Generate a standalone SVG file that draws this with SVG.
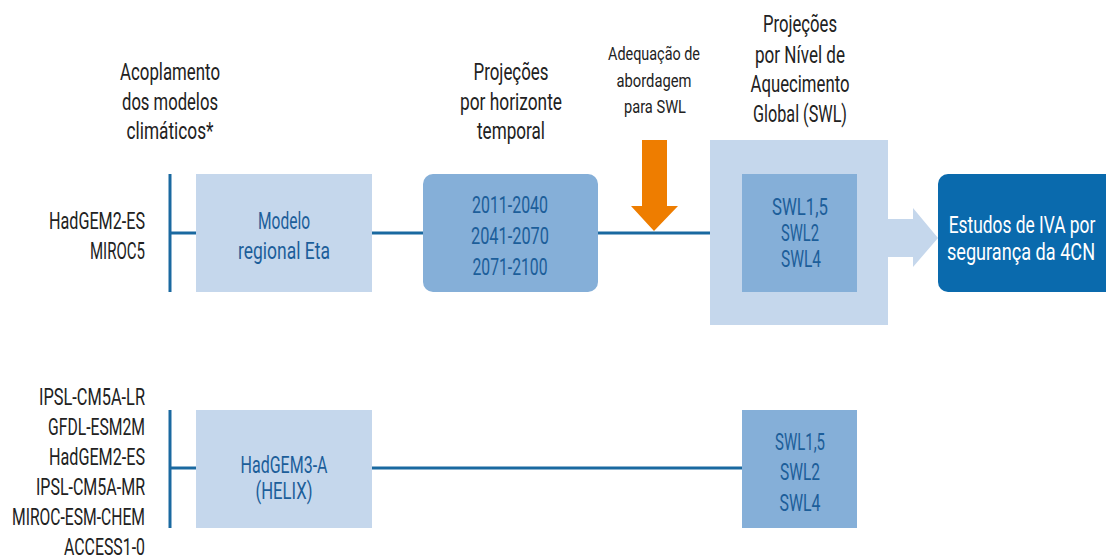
<svg xmlns="http://www.w3.org/2000/svg" width="1106" height="559" viewBox="0 0 1106 559">
<style>
text{font-family:Roboto,"Liberation Sans",sans-serif;font-size:23px;text-anchor:middle}
.h{fill:#222}
.hs{fill:#222;font-size:18px}
.l{fill:#222;text-anchor:end}
.b{fill:#1c5e9a}
.w{fill:#fff}
.light{fill:#c5d7ec}
.mid{fill:#85afd8}
.line{stroke:#1a69a0;stroke-width:3;fill:none}
</style>
<rect width="1106" height="559" fill="#fff"/>
<g id="headers">
<text class="h" x="170" y="80" textLength="100" lengthAdjust="spacingAndGlyphs">Acoplamento</text>
<text class="h" x="170" y="110" textLength="96" lengthAdjust="spacingAndGlyphs">dos modelos</text>
<text class="h" x="170" y="139" textLength="87" lengthAdjust="spacingAndGlyphs">climáticos*</text>
<text class="h" x="511" y="80" textLength="75" lengthAdjust="spacingAndGlyphs">Projeções</text>
<text class="h" x="511" y="110" textLength="102" lengthAdjust="spacingAndGlyphs">por horizonte</text>
<text class="h" x="511" y="139" textLength="68" lengthAdjust="spacingAndGlyphs">temporal</text>
<text class="hs" x="654" y="60" textLength="92" lengthAdjust="spacingAndGlyphs">Adequação de</text>
<text class="hs" x="654" y="87" textLength="75" lengthAdjust="spacingAndGlyphs">abordagem</text>
<text class="hs" x="655" y="113" textLength="62" lengthAdjust="spacingAndGlyphs">para SWL</text>
<text class="h" x="800" y="32" textLength="74" lengthAdjust="spacingAndGlyphs">Projeções</text>
<text class="h" x="800" y="63" textLength="90" lengthAdjust="spacingAndGlyphs">por Nível de</text>
<text class="h" x="800" y="92" textLength="99" lengthAdjust="spacingAndGlyphs">Aquecimento</text>
<text class="h" x="800" y="122" textLength="94" lengthAdjust="spacingAndGlyphs">Global (SWL)</text>
</g>
<g id="connectors">
<line class="line" x1="170" y1="174" x2="170" y2="292"/>
<line class="line" x1="170" y1="233" x2="196" y2="233"/>
<line class="line" x1="372" y1="233" x2="423" y2="233"/>
<line class="line" x1="598" y1="233" x2="742" y2="233"/>
<line class="line" x1="170" y1="410" x2="170" y2="528"/>
<line class="line" x1="170" y1="468" x2="196" y2="468"/>
<line class="line" x1="372" y1="468" x2="742" y2="468"/>
<polygon id="orange-arrow" fill="#ee7d00" points="642,140 667,140 667,206 678,206 654,231 631,206 642,206"/>
<polygon id="light-arrow" class="light" points="888,219 913,219 913,208 938,238 913,267 913,257 888,257"/>
</g>
<g id="inputs-top">
<text class="l" x="145" y="229" textLength="96" lengthAdjust="spacingAndGlyphs">HadGEM2-ES</text>
<text class="l" x="145" y="259" textLength="55" lengthAdjust="spacingAndGlyphs">MIROC5</text>
</g>
<g id="eta">
<rect class="light" x="196" y="174" width="176" height="118"/>
<text class="b" x="284" y="229" textLength="52" lengthAdjust="spacingAndGlyphs">Modelo</text>
<text class="b" x="284" y="259" textLength="92" lengthAdjust="spacingAndGlyphs">regional Eta</text>
</g>
<g id="horizons">
<rect class="mid" x="423" y="174" width="175" height="118" rx="10"/>
<text class="b" x="510" y="213" textLength="76" lengthAdjust="spacingAndGlyphs">2011-2040</text>
<text class="b" x="510" y="244" textLength="78" lengthAdjust="spacingAndGlyphs">2041-2070</text>
<text class="b" x="510" y="275" textLength="75" lengthAdjust="spacingAndGlyphs">2071-2100</text>
</g>
<g id="swl-top">
<rect class="light" x="710" y="140" width="178" height="185"/>
<rect class="mid" x="742" y="174" width="115" height="118"/>
<text class="b" x="800" y="215" textLength="56" lengthAdjust="spacingAndGlyphs">SWL1,5</text>
<text class="b" x="800" y="241" textLength="38" lengthAdjust="spacingAndGlyphs">SWL2</text>
<text class="b" x="801" y="267" textLength="40" lengthAdjust="spacingAndGlyphs">SWL4</text>
</g>
<g id="estudos">
<path d="M948,174 H1106 V292 H948 A10,10 0 0 1 938,282 V184 A10,10 0 0 1 948,174 Z" fill="#0a6aad"/>
<text class="w" transform="translate(1022 233) scale(0.78 1)" x="0" y="0" textLength="188" lengthAdjust="spacingAndGlyphs">Estudos de IVA por</text>
<text class="w" transform="translate(1021 260) scale(0.78 1)" x="0" y="0" textLength="190" lengthAdjust="spacingAndGlyphs">segurança da 4CN</text>
</g>
<g id="inputs-bottom">
<text class="l" x="145" y="405" textLength="106" lengthAdjust="spacingAndGlyphs">IPSL-CM5A-LR</text>
<text class="l" x="145" y="435" textLength="97" lengthAdjust="spacingAndGlyphs">GFDL-ESM2M</text>
<text class="l" x="145" y="465" textLength="96" lengthAdjust="spacingAndGlyphs">HadGEM2-ES</text>
<text class="l" x="145" y="495" textLength="109" lengthAdjust="spacingAndGlyphs">IPSL-CM5A-MR</text>
<text class="l" x="145" y="525" textLength="133" lengthAdjust="spacingAndGlyphs">MIROC-ESM-CHEM</text>
<text class="l" x="145" y="555" textLength="81" lengthAdjust="spacingAndGlyphs">ACCESS1-0</text>
</g>
<g id="helix">
<rect class="light" x="196" y="410" width="176" height="118"/>
<text class="b" x="284" y="473" textLength="87" lengthAdjust="spacingAndGlyphs">HadGEM3-A</text>
<text class="b" x="284" y="499" textLength="57" lengthAdjust="spacingAndGlyphs">(HELIX)</text>
</g>
<g id="swl-bottom">
<rect class="mid" x="742" y="410" width="115" height="118"/>
<text class="b" x="800" y="450" textLength="50" lengthAdjust="spacingAndGlyphs">SWL1,5</text>
<text class="b" x="800" y="480" textLength="40" lengthAdjust="spacingAndGlyphs">SWL2</text>
<text class="b" x="800" y="511" textLength="41" lengthAdjust="spacingAndGlyphs">SWL4</text>
</g>
</svg>
